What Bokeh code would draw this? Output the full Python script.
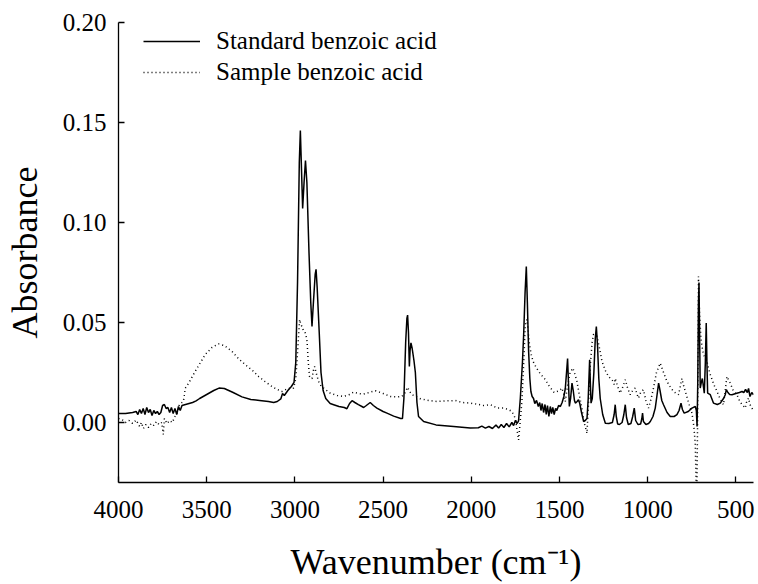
from bokeh.plotting import figure
from bokeh.models import (Range1d, FixedTicker, PrintfTickFormatter, Legend, LegendItem)
from bokeh.embed import file_html
from bokeh.resources import INLINE

# ---------------- data ----------------
std_wn = [4000, 3960, 3920, 3900, 3890, 3880, 3870, 3860, 3850, 3840, 3830, 3820, 3810, 3800,
          3790, 3780, 3770, 3760, 3750, 3740, 3730, 3720, 3710, 3700, 3690, 3680, 3670, 3660,
          3650, 3640, 3620, 3600, 3580, 3560, 3540, 3500, 3460, 3430, 3400, 3350, 3300, 3250,
          3200, 3150, 3120, 3100, 3080, 3070, 3060, 3040, 3020, 3005, 2995, 2985, 2975, 2969,
          2962, 2956, 2948, 2940, 2932, 2920, 2910, 2903, 2895, 2885, 2880, 2874, 2862, 2852,
          2840, 2825, 2800, 2780, 2750, 2720, 2705, 2690, 2676, 2660, 2640, 2620, 2610, 2595,
          2573, 2555, 2535, 2500, 2478, 2440, 2400, 2390, 2382, 2372, 2365, 2361, 2356, 2351,
          2347, 2342, 2335, 2325, 2317, 2308, 2299, 2270, 2200, 2100, 2006, 1960, 1940, 1920,
          1900, 1880, 1860, 1845, 1830, 1815, 1800, 1785, 1770, 1760, 1750, 1740, 1732, 1722,
          1710, 1703, 1695, 1688, 1682, 1675, 1668, 1662, 1655, 1647, 1640, 1630, 1620, 1612,
          1605, 1598, 1590, 1582, 1575, 1568, 1560, 1552, 1545, 1538, 1530, 1522, 1515, 1505,
          1495, 1485, 1475, 1467, 1460, 1454, 1449, 1444, 1437, 1429, 1422, 1415, 1410, 1400,
          1392, 1385, 1375, 1363, 1354, 1344, 1337, 1329, 1325, 1321, 1314, 1305, 1297, 1291,
          1284, 1277, 1269, 1255, 1240, 1220, 1200, 1190, 1184, 1178, 1170, 1160, 1145, 1135,
          1127, 1120, 1110, 1095, 1085, 1076, 1068, 1055, 1040, 1033, 1029, 1024, 1010, 995,
          985, 970, 957, 948, 938, 930, 920, 910, 890, 872, 850, 834, 822, 811, 803, 793, 770,
          749, 730, 724, 720, 716, 712, 709, 705, 702, 696, 690, 684, 679, 673, 668, 664, 660,
          645, 627, 605, 588, 570, 560, 554, 545, 535, 522, 500, 480, 465, 455, 445, 435, 428,
          420, 410, 400]
std_abs = [0.0045, 0.0045, 0.0050, 0.0055, 0.0040, 0.0065, 0.0045, 0.0070, 0.0040, 0.0075,
           0.0050, 0.0065, 0.0035, 0.0060, 0.0045, 0.0055, 0.0040, 0.0050, 0.0085, 0.0090,
           0.0070, 0.0075, 0.0050, 0.0075, 0.0045, 0.0070, 0.0040, 0.0080, 0.0060, 0.0085,
           0.0090, 0.0095, 0.0100, 0.0108, 0.0120, 0.0140, 0.0160, 0.0172, 0.0170, 0.0150,
           0.0128, 0.0115, 0.0110, 0.0105, 0.0100, 0.0105, 0.0118, 0.0145, 0.0135, 0.0160,
           0.0180, 0.0200, 0.0300, 0.0700, 0.1300, 0.1460, 0.1250, 0.1070, 0.1200, 0.1310,
           0.1200, 0.0850, 0.0600, 0.0480, 0.0600, 0.0740, 0.0766, 0.0680, 0.0450, 0.0250,
           0.0160, 0.0120, 0.0095, 0.0089, 0.0080, 0.0075, 0.0069, 0.0095, 0.0109, 0.0100,
           0.0089, 0.0080, 0.0075, 0.0085, 0.0100, 0.0085, 0.0072, 0.0055, 0.0047, 0.0032,
           0.0020, 0.0020, 0.0120, 0.0400, 0.0520, 0.0537, 0.0450, 0.0280, 0.0360, 0.0398,
           0.0370, 0.0310, 0.0250, 0.0100, 0.0030, 0.0005, -0.0012, -0.0020, -0.0028, -0.0026,
           -0.0018, -0.0028, -0.0020, -0.0030, -0.0012, -0.0028, -0.0010, -0.0025, -0.0005,
           -0.0022, 0.0000, -0.0015, 0.0010, -0.0005, 0.0008, 0.0120, 0.0300, 0.0440, 0.0650,
           0.0780, 0.0600, 0.0356, 0.0220, 0.0155, 0.0130, 0.0120, 0.0095, 0.0110, 0.0080,
           0.0100, 0.0060, 0.0095, 0.0050, 0.0090, 0.0040, 0.0085, 0.0030, 0.0080, 0.0045,
           0.0075, 0.0040, 0.0070, 0.0060, 0.0085, 0.0080, 0.0100, 0.0130, 0.0170, 0.0250,
           0.0320, 0.0200, 0.0080, 0.0120, 0.0197, 0.0160, 0.0110, 0.0097, 0.0105, 0.0114,
           0.0095, 0.0050, 0.0005, 0.0010, 0.0020, 0.0120, 0.0314, 0.0200, 0.0097, 0.0120,
           0.0250, 0.0420, 0.0480, 0.0380, 0.0220, 0.0120, 0.0040, -0.0004, -0.0005, 0.0000,
           0.0040, 0.0089, 0.0030, -0.0008, -0.0010, 0.0000, 0.0040, 0.0089, 0.0025, -0.0010,
           -0.0005, 0.0030, 0.0072, 0.0010, -0.0010, -0.0008, 0.0020, 0.0047, 0.0005, -0.0010,
           -0.0005, 0.0005, 0.0030, 0.0072, 0.0130, 0.0197, 0.0160, 0.0110, 0.0089, 0.0050,
           0.0030, 0.0030, 0.0039, 0.0060, 0.0097, 0.0065, 0.0047, 0.0055, 0.0072, 0.0080,
           0.0060, -0.0020, 0.0200, 0.0600, 0.0700, 0.0400, 0.0172, 0.0200, 0.0220, 0.0180,
           0.0147, 0.0300, 0.0498, 0.0300, 0.0147, 0.0139, 0.0097, 0.0090, 0.0097, 0.0120,
           0.0139, 0.0164, 0.0150, 0.0140, 0.0139, 0.0145, 0.0150, 0.0155, 0.0150, 0.0165,
           0.0150, 0.0170, 0.0130, 0.0150, 0.0139]

smp_wn = [4000, 3980, 3960, 3940, 3920, 3900, 3880, 3870, 3859, 3845, 3830, 3815, 3800, 3785,
          3770, 3755, 3746, 3740, 3725, 3710, 3695, 3680, 3668, 3655, 3640, 3632, 3621, 3600,
          3565, 3508, 3470, 3433, 3400, 3357, 3320, 3281, 3240, 3206, 3170, 3130, 3100, 3073,
          3040, 3007, 2995, 2988, 2978, 2973, 2966, 2960, 2952, 2945, 2938, 2931, 2924, 2917,
          2910, 2903, 2895, 2888, 2880, 2866, 2850, 2837, 2800, 2760, 2724, 2690, 2667, 2640,
          2610, 2580, 2544, 2500, 2459, 2420, 2393, 2375, 2361, 2350, 2336, 2289, 2240, 2194,
          2140, 2091, 2050, 2006, 1970, 1930, 1890, 1854, 1817, 1790, 1769, 1750, 1740, 1732,
          1725, 1713, 1700, 1694, 1684, 1677, 1670, 1660, 1650, 1635, 1619, 1600, 1580, 1560,
          1543, 1530, 1514, 1500, 1486, 1475, 1467, 1455, 1440, 1424, 1412, 1401, 1388, 1373,
          1360, 1344, 1335, 1325, 1315, 1307, 1297, 1287, 1275, 1259, 1240, 1222, 1200, 1190,
          1184, 1170, 1156, 1140, 1127, 1113, 1099, 1085, 1071, 1060, 1052, 1040, 1024, 1010,
          995, 980, 967, 950, 929, 910, 891, 870, 853, 838, 825, 815, 806, 795, 781, 765, 749,
          738, 730, 722, 716, 712, 706, 698, 690, 683, 675, 664, 655, 645, 625, 607, 590, 578,
          570, 560, 551, 545, 532, 515, 494, 480, 465, 455, 447, 440, 428, 420, 409, 400]
smp_abs = [0.0020, 0.0015, 0.0000, 0.0010, -0.0005, 0.0012, -0.0020, 0.0000, -0.0030, -0.0010,
           -0.0025, -0.0005, -0.0015, 0.0005, -0.0010, 0.0000, -0.0060, 0.0020, -0.0005, 0.0010,
           0.0000, 0.0030, 0.0047, 0.0090, 0.0100, 0.0105, 0.0172, 0.0200, 0.0256, 0.0340,
           0.0375, 0.0393, 0.0385, 0.0356, 0.0320, 0.0289, 0.0260, 0.0230, 0.0205, 0.0180,
           0.0165, 0.0155, 0.0170, 0.0172, 0.0220, 0.0306, 0.0450, 0.0515, 0.0490, 0.0480,
           0.0460, 0.0456, 0.0440, 0.0406, 0.0300, 0.0230, 0.0220, 0.0220, 0.0260, 0.0280,
           0.0250, 0.0206, 0.0180, 0.0172, 0.0147, 0.0135, 0.0130, 0.0140, 0.0152, 0.0145,
           0.0142, 0.0150, 0.0159, 0.0145, 0.0130, 0.0128, 0.0130, 0.0150, 0.0176, 0.0155,
           0.0139, 0.0119, 0.0110, 0.0105, 0.0108, 0.0110, 0.0100, 0.0097, 0.0092, 0.0085,
           0.0089, 0.0072, 0.0072, 0.0065, 0.0055, 0.0020, -0.0040, -0.0087, -0.0020, 0.0105,
           0.0350, 0.0490, 0.0515, 0.0450, 0.0390, 0.0340, 0.0306, 0.0280, 0.0256, 0.0235,
           0.0214, 0.0185, 0.0164, 0.0150, 0.0155, 0.0160, 0.0172, 0.0140, 0.0105, 0.0180,
           0.0250, 0.0272, 0.0240, 0.0206, 0.0140, 0.0072, 0.0000, -0.0054, 0.0100, 0.0290,
           0.0400, 0.0440, 0.0440, 0.0430, 0.0380, 0.0306, 0.0260, 0.0230, 0.0210, 0.0190,
           0.0220, 0.0180, 0.0147, 0.0180, 0.0214, 0.0170, 0.0139, 0.0160, 0.0172, 0.0140,
           0.0122, 0.0150, 0.0164, 0.0110, 0.0072, 0.0120, 0.0172, 0.0250, 0.0297, 0.0250,
           0.0206, 0.0175, 0.0155, 0.0145, 0.0139, 0.0180, 0.0220, 0.0180, 0.0139, 0.0090,
           0.0047, -0.0020, -0.0110, -0.0450, 0.0100, 0.0730, 0.0550, 0.0420, 0.0370, 0.0340,
           0.0320, 0.0306, 0.0270, 0.0240, 0.0190, 0.0155, 0.0120, 0.0100, 0.0089, 0.0160,
           0.0230, 0.0220, 0.0197, 0.0160, 0.0139, 0.0110, 0.0089, 0.0080, 0.0072, 0.0100,
           0.0122, 0.0090, 0.0072, 0.0060]

x_ticks = [4000, 3500, 3000, 2500, 2000, 1500, 1000, 500]
y_ticks = [0.00, 0.05, 0.10, 0.15, 0.20]
series_names = ["Standard benzoic acid", "Sample benzoic acid"]
x_title = "Wavenumber (cm\u207b\u00b9)"
y_title = "Absorbance"

FONT = "Liberation Serif"

p = figure(width=758, height=584, output_backend="svg", toolbar_location=None,
           x_range=Range1d(4000, 400), y_range=Range1d(-0.03, 0.20),
           min_border_left=118, min_border_right=5, min_border_top=22, min_border_bottom=102)
p.outline_line_color = None
p.xgrid.visible = False
p.ygrid.visible = False
p.background_fill_color = "white"
p.border_fill_color = "white"

r1 = p.line(std_wn, std_abs, line_color="black", line_width=1.5)
r2 = p.line(smp_wn, smp_abs, line_color="black", line_width=1.5, line_dash="1 3")

p.axis.axis_line_color = "black"
p.axis.axis_line_width = 1.3
p.axis.major_tick_line_color = "black"
p.axis.major_tick_line_width = 1.3
p.axis.major_tick_in = 6
p.axis.major_tick_out = 0
p.axis.minor_tick_line_color = None
p.axis.major_label_text_font = FONT
p.axis.major_label_text_font_size = "25px"
p.axis.major_label_text_color = "black"
p.axis.axis_label_text_font = FONT
p.axis.axis_label_text_font_size = "36px"
p.axis.axis_label_text_font_style = "normal"
p.axis.axis_label_text_color = "black"

p.xaxis.ticker = FixedTicker(ticks=x_ticks)
p.xaxis.formatter = PrintfTickFormatter(format="%d")
p.xaxis.axis_label = x_title
p.xaxis.major_label_standoff = 18
p.xaxis.axis_label_standoff = 21

p.yaxis.ticker = FixedTicker(ticks=y_ticks)
p.yaxis.formatter = PrintfTickFormatter(format="%.2f")
p.yaxis.axis_label = y_title
p.yaxis.major_label_standoff = 12
p.yaxis.axis_label_standoff = 15

legend = Legend(items=[LegendItem(label=series_names[0], renderers=[r1]),
                       LegendItem(label=series_names[1], renderers=[r2])],
                location=(25, 396), padding=0, margin=0, spacing=3,
                glyph_width=57, glyph_height=28, label_height=28, label_standoff=16,
                label_text_font=FONT, label_text_font_size="25px", label_text_color="black",
                border_line_color=None, background_fill_alpha=0)
p.add_layout(legend)

open("out.html", "w").write(file_html(p, INLINE))
